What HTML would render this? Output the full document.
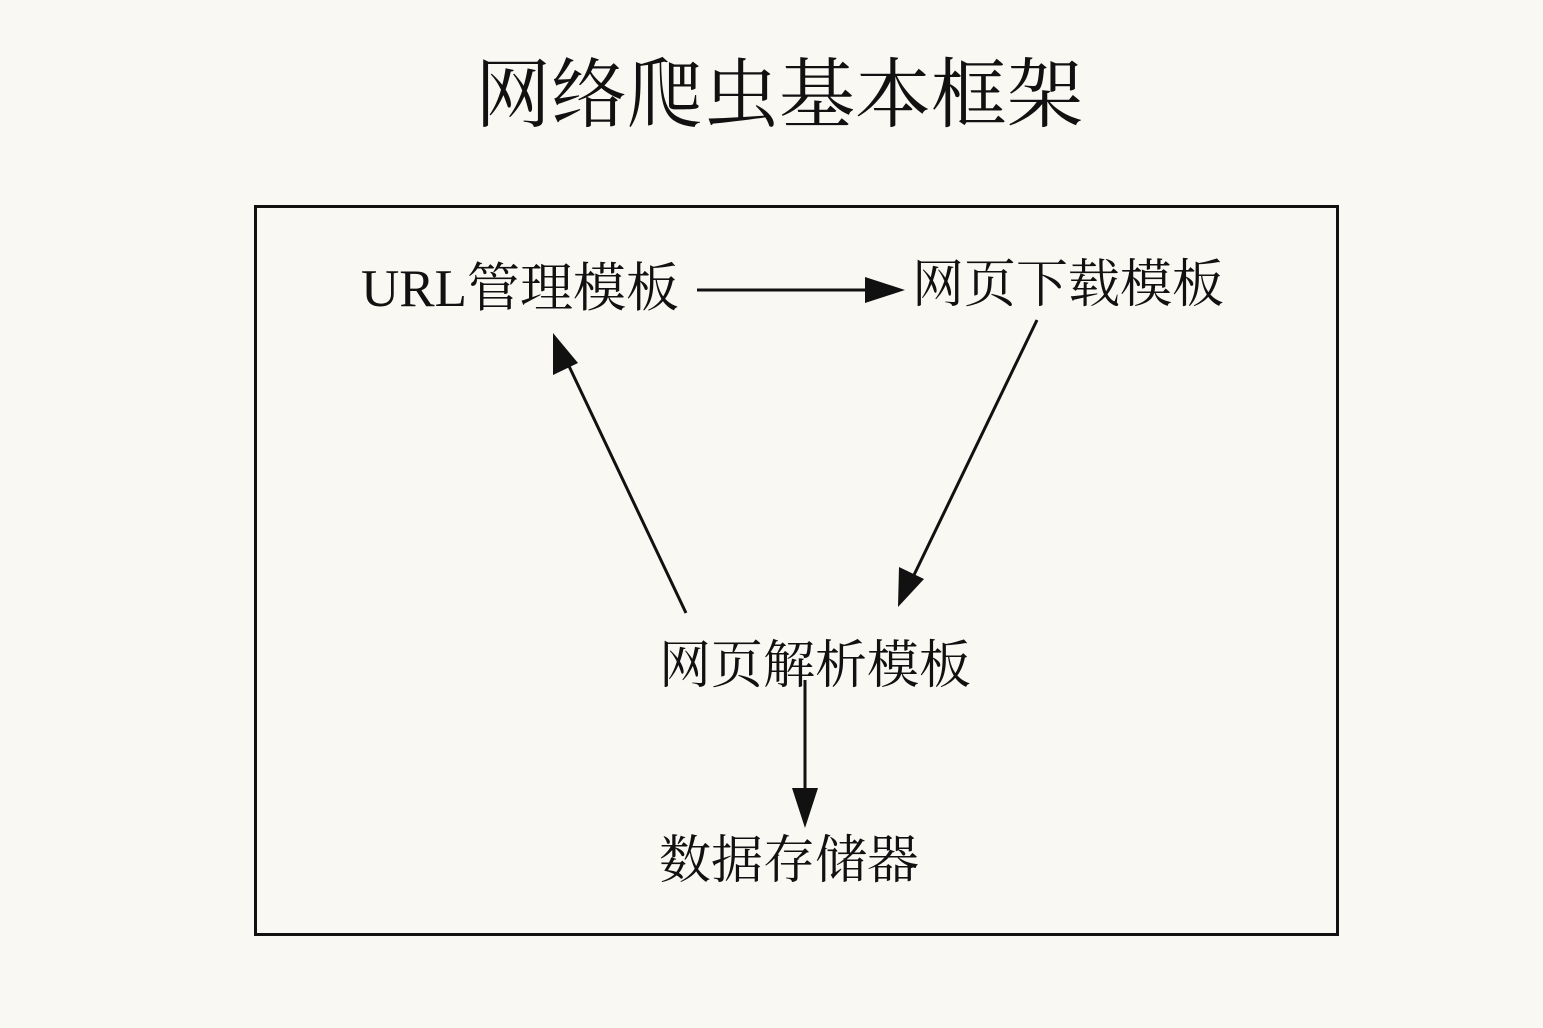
<!DOCTYPE html>
<html><head><meta charset="utf-8"><style>
html,body{margin:0;padding:0;background:#faf8f3;}
svg{display:block}
text{font-family:"Liberation Serif","Noto Serif CJK SC",serif;fill:#111;}
</style></head><body>
<svg width="1543" height="1028" viewBox="0 0 1543 1028" xmlns="http://www.w3.org/2000/svg">
<rect width="1543" height="1028" fill="#faf8f3"/>
<text x="779" y="121" font-size="76" text-anchor="middle">网络爬虫基本框架</text>
<rect x="255.5" y="206.5" width="1082" height="728" fill="none" stroke="#111" stroke-width="3"/>
<text x="520" y="306" font-size="53" text-anchor="middle">URL管理模板</text>
<text x="1068" y="302" font-size="52" text-anchor="middle">网页下载模板</text>
<text x="815" y="683" font-size="52" text-anchor="middle">网页解析模板</text>
<text x="789" y="878" font-size="52" text-anchor="middle">数据存储器</text>
<g stroke="#111" stroke-width="3" fill="none">
<line x1="697" y1="290" x2="870" y2="290"/>
<line x1="686" y1="613" x2="568" y2="364"/>
<line x1="1037" y1="320" x2="914" y2="575"/>
<line x1="805" y1="680" x2="805" y2="795"/>
</g>
<g fill="#111">
<polygon points="905,290 865,277 865,303"/>
<polygon points="553,333 553,375 578,363"/>
<polygon points="898,607 899,567 924,579"/>
<polygon points="805,828 792,788 818,788"/>
</g>
</svg>
</body></html>
